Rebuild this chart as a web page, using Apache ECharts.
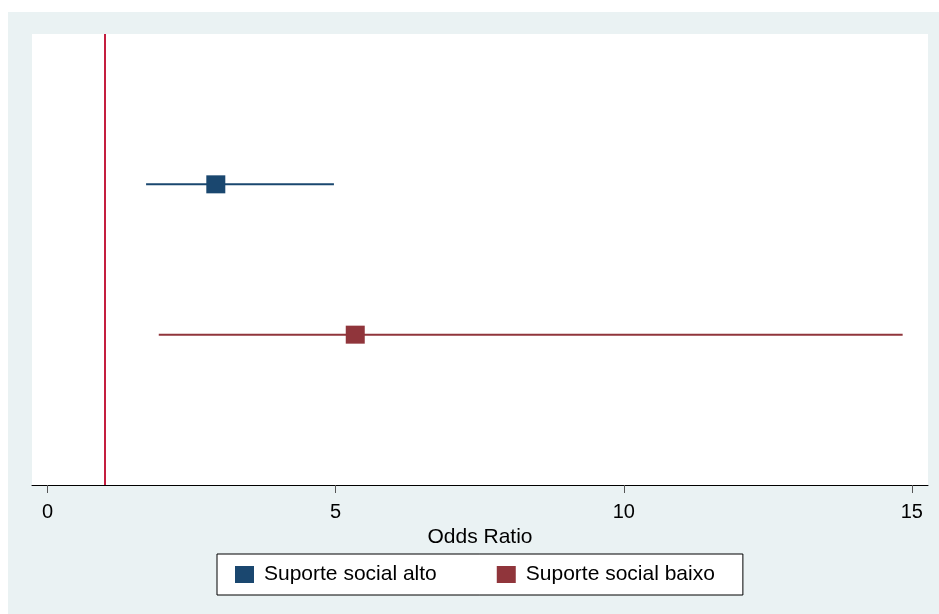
<!DOCTYPE html>
<html>
<head>
<meta charset="utf-8">
<script src="https://cdn.jsdelivr.net/npm/echarts@6/dist/echarts.min.js"></script>
<style>
  html, body { margin: 0; padding: 0; background: #ffffff; }
  #chart { width: 939px; height: 614px; }
</style>
</head>
<body>
<div id="chart"></div>
<script>
// dados
var groups = ['Suporte social alto', 'Suporte social baixo'];
var oddsRatio = [2.92, 5.34];
var ciLow = [1.71, 1.93];
var ciHigh = [4.97, 14.84];
var rowPos = [2, 1];          // posição vertical (de baixo para cima)
var groupColors = ['#1a476f', '#90353b'];
var refValue = 1;
var xTicks = [0, 5, 10, 15];

var myChart = echarts.init(document.getElementById('chart'));

var series = [];
groups.forEach(function (name, i) {
    // intervalo de confiança
    series.push({
        type: 'line',
        name: name,
        data: [[ciLow[i], rowPos[i]], [ciHigh[i], rowPos[i]]],
        symbol: 'none',
        lineStyle: { color: groupColors[i], width: 2 },
        itemStyle: { color: groupColors[i] },
        silent: true,
        z: 2
    });
    // estimativa pontual
    series.push({
        type: 'scatter',
        name: name,
        data: [[oddsRatio[i], rowPos[i]]],
        symbol: 'rect',
        symbolSize: [19, 18],
        itemStyle: { color: groupColors[i], opacity: 1 },
        z: 3
    });
});

// linha de referência em OR = 1
series.push({
    type: 'line',
    name: 'ref',
    data: [],
    markLine: {
        silent: true,
        symbol: 'none',
        label: { show: false },
        lineStyle: { color: '#c41e3f', width: 2, type: 'solid' },
        data: [{ xAxis: refValue }]
    },
    z: 1
});

var option = {
    animation: false,
    textStyle: { fontFamily: 'Liberation Sans, Arial, sans-serif' },
    graphic: [{
        type: 'rect',
        z: -10,
        silent: true,
        shape: { x: 8, y: 12, width: 931, height: 602 },
        style: { fill: '#eaf2f3' }
    }],
    grid: {
        left: 32,
        top: 34,
        right: 11,
        bottom: 129,
        show: true,
        backgroundColor: '#ffffff',
        borderWidth: 0
    },
    xAxis: {
        type: 'value',
        min: -0.27,
        max: 15.28,
        name: 'Odds Ratio',
        nameLocation: 'middle',
        nameGap: 38,
        nameTextStyle: { color: '#000000', fontSize: 21 },
        axisLine: { show: true, onZero: false, lineStyle: { color: '#000000', width: 1 } },
        axisTick: { show: true, length: 8, customValues: xTicks, lineStyle: { color: '#555555' } },
        axisLabel: { show: true, customValues: xTicks, color: '#000000', fontSize: 20, margin: 17 },
        splitLine: { show: false }
    },
    yAxis: {
        type: 'value',
        min: 0,
        max: 3,
        show: false
    },
    legend: {
        data: groups,
        left: 217,
        top: 554,
        orient: 'horizontal',
        icon: 'rect',
        itemWidth: 19,
        itemHeight: 17,
        itemGap: 60,
        padding: [10, 28, 10, 18],
        borderColor: '#000000',
        borderWidth: 1,
        backgroundColor: '#ffffff',
        textStyle: { color: '#000000', fontSize: 21, lineHeight: 20, padding: [0, 0, 0, 5] }
    },
    series: series
};

myChart.setOption(option);

window.onresize = function () {
    myChart.resize();
};
</script>
</body>
</html>
